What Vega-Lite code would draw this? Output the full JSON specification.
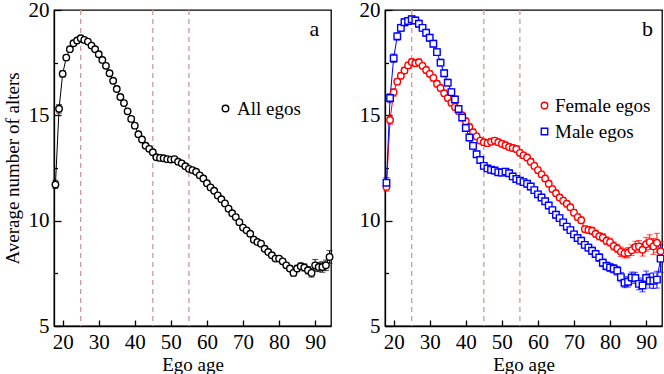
{
"$schema":"https://vega.github.io/schema/vega-lite/v6.json",
"background":"white",
"padding":{"left":2,"top":-2,"right":3,"bottom":0},
"spacing":21,
"resolve":{"scale":{"color":"independent","shape":"independent","x":"independent","y":"independent"},"legend":{"color":"independent","shape":"independent"},"axis":{"x":"independent","y":"independent"}},
"datasets":{
"vl":[{"age":25},{"age":45},{"age":55}],
"all":[
{"age":18,"v":11.72,"e":0.2},{"age":19,"v":15.31,"e":0.2},{"age":20,"v":16.97,"e":0.15},{"age":21,"v":17.74,"e":0.12},{"age":22,"v":18.14,"e":0.1},{"age":23,"v":18.42,"e":0.1},{"age":24,"v":18.55,"e":0.1},{"age":25,"v":18.66,"e":0.1},{"age":26,"v":18.58,"e":0.1},{"age":27,"v":18.5,"e":0.1},{"age":28,"v":18.31,"e":0.1},{"age":29,"v":18.14,"e":0.1},{"age":30,"v":17.9,"e":0.1},{"age":31,"v":17.63,"e":0.1},{"age":32,"v":17.35,"e":0.1},{"age":33,"v":17.0,"e":0.1},{"age":34,"v":16.64,"e":0.1},{"age":35,"v":16.25,"e":0.1},{"age":36,"v":15.87,"e":0.1},{"age":37,"v":15.58,"e":0.1},{"age":38,"v":15.19,"e":0.1},{"age":39,"v":14.83,"e":0.1},{"age":40,"v":14.51,"e":0.1},{"age":41,"v":14.1,"e":0.1},{"age":42,"v":13.85,"e":0.1},{"age":43,"v":13.56,"e":0.1},{"age":44,"v":13.41,"e":0.1},{"age":45,"v":13.25,"e":0.1},{"age":46,"v":13.01,"e":0.1},{"age":47,"v":12.98,"e":0.1},{"age":48,"v":12.96,"e":0.1},{"age":49,"v":12.92,"e":0.1},{"age":50,"v":12.9,"e":0.1},{"age":51,"v":12.92,"e":0.1},{"age":52,"v":12.8,"e":0.1},{"age":53,"v":12.72,"e":0.1},{"age":54,"v":12.58,"e":0.1},{"age":55,"v":12.46,"e":0.1},{"age":56,"v":12.4,"e":0.1},{"age":57,"v":12.32,"e":0.1},{"age":58,"v":12.15,"e":0.1},{"age":59,"v":12.0,"e":0.1},{"age":60,"v":11.78,"e":0.1},{"age":61,"v":11.58,"e":0.1},{"age":62,"v":11.42,"e":0.1},{"age":63,"v":11.2,"e":0.1},{"age":64,"v":11.02,"e":0.1},{"age":65,"v":10.82,"e":0.1},{"age":66,"v":10.57,"e":0.1},{"age":67,"v":10.35,"e":0.1},{"age":68,"v":10.17,"e":0.1},{"age":69,"v":9.93,"e":0.1},{"age":70,"v":9.67,"e":0.1},{"age":71,"v":9.54,"e":0.1},{"age":72,"v":9.38,"e":0.1},{"age":73,"v":9.1,"e":0.1},{"age":74,"v":8.99,"e":0.1},{"age":75,"v":8.91,"e":0.1},{"age":76,"v":8.67,"e":0.1},{"age":77,"v":8.51,"e":0.1},{"age":78,"v":8.36,"e":0.1},{"age":79,"v":8.2,"e":0.1},{"age":80,"v":8.2,"e":0.1},{"age":81,"v":8.07,"e":0.12},{"age":82,"v":7.88,"e":0.12},{"age":83,"v":7.73,"e":0.12},{"age":84,"v":7.52,"e":0.14},{"age":85,"v":7.73,"e":0.15},{"age":86,"v":7.84,"e":0.15},{"age":87,"v":7.78,"e":0.17},{"age":88,"v":7.65,"e":0.18},{"age":89,"v":7.52,"e":0.2},{"age":90,"v":7.88,"e":0.28},{"age":91,"v":7.8,"e":0.22},{"age":92,"v":7.8,"e":0.25},{"age":93,"v":7.88,"e":0.25},{"age":94,"v":8.28,"e":0.3}
],
"fm":[
{"g":"Female egos","age":18,"v":11.6,"e":0.2},{"g":"Female egos","age":19,"v":14.78,"e":0.2},{"g":"Female egos","age":20,"v":16.09,"e":0.18},{"g":"Female egos","age":21,"v":16.6,"e":0.15},{"g":"Female egos","age":22,"v":16.88,"e":0.15},{"g":"Female egos","age":23,"v":17.13,"e":0.15},{"g":"Female egos","age":24,"v":17.37,"e":0.15},{"g":"Female egos","age":25,"v":17.53,"e":0.15},{"g":"Female egos","age":26,"v":17.47,"e":0.15},{"g":"Female egos","age":27,"v":17.52,"e":0.15},{"g":"Female egos","age":28,"v":17.35,"e":0.15},{"g":"Female egos","age":29,"v":17.15,"e":0.15},{"g":"Female egos","age":30,"v":16.97,"e":0.15},{"g":"Female egos","age":31,"v":16.78,"e":0.15},{"g":"Female egos","age":32,"v":16.5,"e":0.15},{"g":"Female egos","age":33,"v":16.3,"e":0.15},{"g":"Female egos","age":34,"v":16.05,"e":0.15},{"g":"Female egos","age":35,"v":15.82,"e":0.15},{"g":"Female egos","age":36,"v":15.6,"e":0.15},{"g":"Female egos","age":37,"v":15.4,"e":0.15},{"g":"Female egos","age":38,"v":15.2,"e":0.15},{"g":"Female egos","age":39,"v":15.0,"e":0.15},{"g":"Female egos","age":40,"v":14.72,"e":0.15},{"g":"Female egos","age":41,"v":14.45,"e":0.15},{"g":"Female egos","age":42,"v":14.2,"e":0.15},{"g":"Female egos","age":43,"v":14.0,"e":0.15},{"g":"Female egos","age":44,"v":13.8,"e":0.15},{"g":"Female egos","age":45,"v":13.72,"e":0.15},{"g":"Female egos","age":46,"v":13.68,"e":0.15},{"g":"Female egos","age":47,"v":13.75,"e":0.15},{"g":"Female egos","age":48,"v":13.8,"e":0.15},{"g":"Female egos","age":49,"v":13.72,"e":0.15},{"g":"Female egos","age":50,"v":13.65,"e":0.15},{"g":"Female egos","age":51,"v":13.58,"e":0.15},{"g":"Female egos","age":52,"v":13.5,"e":0.15},{"g":"Female egos","age":53,"v":13.45,"e":0.15},{"g":"Female egos","age":54,"v":13.4,"e":0.15},{"g":"Female egos","age":55,"v":13.22,"e":0.15},{"g":"Female egos","age":56,"v":13.1,"e":0.15},{"g":"Female egos","age":57,"v":13.0,"e":0.15},{"g":"Female egos","age":58,"v":12.8,"e":0.15},{"g":"Female egos","age":59,"v":12.6,"e":0.15},{"g":"Female egos","age":60,"v":12.4,"e":0.15},{"g":"Female egos","age":61,"v":12.2,"e":0.15},{"g":"Female egos","age":62,"v":12.0,"e":0.15},{"g":"Female egos","age":63,"v":11.75,"e":0.15},{"g":"Female egos","age":64,"v":11.5,"e":0.15},{"g":"Female egos","age":65,"v":11.3,"e":0.15},{"g":"Female egos","age":66,"v":11.1,"e":0.15},{"g":"Female egos","age":67,"v":10.95,"e":0.15},{"g":"Female egos","age":68,"v":10.8,"e":0.15},{"g":"Female egos","age":69,"v":10.64,"e":0.15},{"g":"Female egos","age":70,"v":10.38,"e":0.15},{"g":"Female egos","age":71,"v":10.17,"e":0.16},{"g":"Female egos","age":72,"v":10.02,"e":0.16},{"g":"Female egos","age":73,"v":9.6,"e":0.16},{"g":"Female egos","age":74,"v":9.56,"e":0.16},{"g":"Female egos","age":75,"v":9.52,"e":0.17},{"g":"Female egos","age":76,"v":9.38,"e":0.17},{"g":"Female egos","age":77,"v":9.26,"e":0.17},{"g":"Female egos","age":78,"v":9.2,"e":0.18},{"g":"Female egos","age":79,"v":9.05,"e":0.18},{"g":"Female egos","age":80,"v":8.98,"e":0.19},{"g":"Female egos","age":81,"v":8.8,"e":0.2},{"g":"Female egos","age":82,"v":8.68,"e":0.2},{"g":"Female egos","age":83,"v":8.52,"e":0.22},{"g":"Female egos","age":84,"v":8.45,"e":0.22},{"g":"Female egos","age":85,"v":8.48,"e":0.24},{"g":"Female egos","age":86,"v":8.6,"e":0.25},{"g":"Female egos","age":87,"v":8.75,"e":0.27},{"g":"Female egos","age":88,"v":8.78,"e":0.28},{"g":"Female egos","age":89,"v":8.62,"e":0.3},{"g":"Female egos","age":90,"v":8.88,"e":0.33},{"g":"Female egos","age":91,"v":8.98,"e":0.35},{"g":"Female egos","age":92,"v":8.78,"e":0.38},{"g":"Female egos","age":93,"v":8.95,"e":0.45},{"g":"Female egos","age":94,"v":8.55,"e":0.45},
{"g":"Male egos","age":18,"v":11.8,"e":0.25},{"g":"Male egos","age":19,"v":15.82,"e":0.22},{"g":"Male egos","age":20,"v":17.71,"e":0.2},{"g":"Male egos","age":21,"v":18.75,"e":0.18},{"g":"Male egos","age":22,"v":19.15,"e":0.17},{"g":"Male egos","age":23,"v":19.42,"e":0.17},{"g":"Male egos","age":24,"v":19.48,"e":0.16},{"g":"Male egos","age":25,"v":19.56,"e":0.16},{"g":"Male egos","age":26,"v":19.5,"e":0.16},{"g":"Male egos","age":27,"v":19.35,"e":0.16},{"g":"Male egos","age":28,"v":19.15,"e":0.16},{"g":"Male egos","age":29,"v":18.92,"e":0.16},{"g":"Male egos","age":30,"v":18.68,"e":0.16},{"g":"Male egos","age":31,"v":18.4,"e":0.16},{"g":"Male egos","age":32,"v":18.0,"e":0.16},{"g":"Male egos","age":33,"v":17.5,"e":0.16},{"g":"Male egos","age":34,"v":17.0,"e":0.16},{"g":"Male egos","age":35,"v":16.55,"e":0.16},{"g":"Male egos","age":36,"v":16.1,"e":0.16},{"g":"Male egos","age":37,"v":15.75,"e":0.16},{"g":"Male egos","age":38,"v":15.3,"e":0.16},{"g":"Male egos","age":39,"v":14.9,"e":0.16},{"g":"Male egos","age":40,"v":14.4,"e":0.16},{"g":"Male egos","age":41,"v":13.95,"e":0.16},{"g":"Male egos","age":42,"v":13.55,"e":0.16},{"g":"Male egos","age":43,"v":13.15,"e":0.15},{"g":"Male egos","age":44,"v":12.88,"e":0.15},{"g":"Male egos","age":45,"v":12.6,"e":0.15},{"g":"Male egos","age":46,"v":12.48,"e":0.15},{"g":"Male egos","age":47,"v":12.42,"e":0.15},{"g":"Male egos","age":48,"v":12.38,"e":0.15},{"g":"Male egos","age":49,"v":12.3,"e":0.15},{"g":"Male egos","age":50,"v":12.28,"e":0.15},{"g":"Male egos","age":51,"v":12.33,"e":0.15},{"g":"Male egos","age":52,"v":12.25,"e":0.15},{"g":"Male egos","age":53,"v":12.1,"e":0.15},{"g":"Male egos","age":54,"v":11.98,"e":0.15},{"g":"Male egos","age":55,"v":11.9,"e":0.15},{"g":"Male egos","age":56,"v":11.83,"e":0.15},{"g":"Male egos","age":57,"v":11.75,"e":0.15},{"g":"Male egos","age":58,"v":11.62,"e":0.15},{"g":"Male egos","age":59,"v":11.45,"e":0.15},{"g":"Male egos","age":60,"v":11.25,"e":0.15},{"g":"Male egos","age":61,"v":11.1,"e":0.15},{"g":"Male egos","age":62,"v":10.92,"e":0.15},{"g":"Male egos","age":63,"v":10.72,"e":0.15},{"g":"Male egos","age":64,"v":10.5,"e":0.15},{"g":"Male egos","age":65,"v":10.28,"e":0.15},{"g":"Male egos","age":66,"v":10.12,"e":0.15},{"g":"Male egos","age":67,"v":9.92,"e":0.15},{"g":"Male egos","age":68,"v":9.72,"e":0.15},{"g":"Male egos","age":69,"v":9.55,"e":0.15},{"g":"Male egos","age":70,"v":9.35,"e":0.15},{"g":"Male egos","age":71,"v":9.18,"e":0.16},{"g":"Male egos","age":72,"v":9.05,"e":0.16},{"g":"Male egos","age":73,"v":8.85,"e":0.16},{"g":"Male egos","age":74,"v":8.72,"e":0.17},{"g":"Male egos","age":75,"v":8.57,"e":0.17},{"g":"Male egos","age":76,"v":8.42,"e":0.17},{"g":"Male egos","age":77,"v":8.25,"e":0.18},{"g":"Male egos","age":78,"v":8.0,"e":0.18},{"g":"Male egos","age":79,"v":7.85,"e":0.19},{"g":"Male egos","age":80,"v":7.78,"e":0.2},{"g":"Male egos","age":81,"v":7.72,"e":0.2},{"g":"Male egos","age":82,"v":7.62,"e":0.21},{"g":"Male egos","age":83,"v":7.32,"e":0.22},{"g":"Male egos","age":84,"v":7.05,"e":0.23},{"g":"Male egos","age":85,"v":7.1,"e":0.25},{"g":"Male egos","age":86,"v":7.3,"e":0.26},{"g":"Male egos","age":87,"v":7.28,"e":0.27},{"g":"Male egos","age":88,"v":7.0,"e":0.28},{"g":"Male egos","age":89,"v":6.92,"e":0.3},{"g":"Male egos","age":90,"v":7.28,"e":0.33},{"g":"Male egos","age":91,"v":7.15,"e":0.35},{"g":"Male egos","age":92,"v":7.15,"e":0.37},{"g":"Male egos","age":93,"v":7.2,"e":0.4},{"g":"Male egos","age":94,"v":8.2,"e":0.65}
]
},
"hconcat":[
{
"width":277,"height":316,
"resolve":{"axis":{"y":"independent"}},
"layer":[
{"data":{"name":"vl"},"mark":{"type":"rule","color":"#c99a9a","strokeDash":[5,4],"strokeWidth":1.3},"encoding":{"x":{"field":"age","type":"quantitative","scale":{"domain":[17.6,94.4],"nice":false,"zero":false},"axis":{"values":[20,30,40,50,60,70,80,90],"title":"Ego age"}}}},
{"data":{"name":"all"},"mark":{"type":"errorbar","ticks":{"size":6},"thickness":1,"color":"black"},"encoding":{"x":{"field":"age","type":"quantitative","axis":{"values":[20,30,40,50,60,70,80,90],"title":"Ego age"}},"y":{"field":"v","type":"quantitative","scale":{"domain":[5,20],"nice":false,"zero":false},"axis":null},"yError":{"field":"e"}}},
{"data":{"name":"all"},"mark":{"type":"line","strokeWidth":1,"color":"black"},"encoding":{"x":{"field":"age","type":"quantitative","axis":{"values":[20,30,40,50,60,70,80,90],"title":"Ego age"}},"y":{"field":"v","type":"quantitative","axis":{"values":[7.5,12.5,17.5],"labels":false,"domain":false,"tickSize":-3.5,"title":null,"orient":"left"}}}},
{"data":{"name":"all"},"mark":{"type":"point","filled":false,"fill":"white","strokeWidth":1.4,"size":42,"opacity":1},"encoding":{"x":{"field":"age","type":"quantitative","axis":{"values":[20,30,40,50,60,70,80,90],"title":"Ego age"}},"y":{"field":"v","type":"quantitative","axis":{"values":[5,10,15,20],"title":"Average number of alters","orient":"left"}},"color":{"datum":"All egos","scale":{"range":["black"]},"legend":{"orient":"none","legendX":162,"legendY":89,"title":null,"symbolType":"circle","symbolSize":42,"labelOffset":2}}}},
{"data":{"values":[{"lab":"a"}]},"mark":{"type":"text","fontSize":22,"align":"center","baseline":"alphabetic","color":"black"},"encoding":{"text":{"field":"lab"},"x":{"datum":89.8,"axis":{"values":[20,30,40,50,60,70,80,90],"title":"Ego age"}},"y":{"datum":18.77,"axis":null}}}
]
},
{
"width":277,"height":316,
"resolve":{"axis":{"y":"independent"}},
"layer":[
{"data":{"name":"vl"},"mark":{"type":"rule","color":"#c99a9a","strokeDash":[5,4],"strokeWidth":1.3},"encoding":{"x":{"field":"age","type":"quantitative","scale":{"domain":[17.6,94.4],"nice":false,"zero":false},"axis":{"values":[20,30,40,50,60,70,80,90],"title":"Ego age"}}}},
{"data":{"name":"fm"},"transform":[{"filter":{"field":"g","equal":"Female egos"}}],"mark":{"type":"errorbar","ticks":{"size":6},"thickness":1,"color":"#ff0000"},"encoding":{"x":{"field":"age","type":"quantitative","axis":{"values":[20,30,40,50,60,70,80,90],"title":"Ego age"}},"y":{"field":"v","type":"quantitative","scale":{"domain":[5,20],"nice":false,"zero":false},"axis":null},"yError":{"field":"e"}}},
{"data":{"name":"fm"},"transform":[{"filter":{"field":"g","equal":"Male egos"}}],"mark":{"type":"errorbar","ticks":{"size":6},"thickness":1,"color":"#0000ff"},"encoding":{"x":{"field":"age","type":"quantitative","axis":{"values":[20,30,40,50,60,70,80,90],"title":"Ego age"}},"y":{"field":"v","type":"quantitative","axis":null},"yError":{"field":"e"}}},
{"data":{"name":"fm"},"transform":[{"filter":{"field":"g","equal":"Female egos"}}],"mark":{"type":"line","strokeWidth":1,"color":"#ff0000"},"encoding":{"x":{"field":"age","type":"quantitative","axis":{"values":[20,30,40,50,60,70,80,90],"title":"Ego age"}},"y":{"field":"v","type":"quantitative","axis":{"values":[7.5,12.5,17.5],"labels":false,"domain":false,"tickSize":-3.5,"title":null,"orient":"left"}}}},
{"data":{"name":"fm"},"transform":[{"filter":{"field":"g","equal":"Male egos"}}],"mark":{"type":"line","strokeWidth":1,"color":"#0000ff"},"encoding":{"x":{"field":"age","type":"quantitative","axis":{"values":[20,30,40,50,60,70,80,90],"title":"Ego age"}},"y":{"field":"v","type":"quantitative","axis":null}}},
{"data":{"name":"fm"},"mark":{"type":"point","filled":false,"fill":"white","strokeWidth":1.4,"size":42,"opacity":1},"encoding":{"x":{"field":"age","type":"quantitative","axis":{"values":[20,30,40,50,60,70,80,90],"title":"Ego age"}},"y":{"field":"v","type":"quantitative","axis":{"values":[5,10,15,20],"title":null,"orient":"left"}},"color":{"field":"g","type":"nominal","scale":{"domain":["Female egos","Male egos"],"range":["#ff0000","#0000ff"]},"legend":{"orient":"none","legendX":150,"legendY":86,"title":null,"symbolSize":42,"labelOffset":1}},"shape":{"field":"g","type":"nominal","scale":{"domain":["Female egos","Male egos"],"range":["circle","square"]},"legend":{"orient":"none","legendX":150,"legendY":86,"title":null,"symbolSize":42,"labelOffset":1}}}},
{"data":{"values":[{"lab":"b"}]},"mark":{"type":"text","fontSize":22,"align":"center","baseline":"alphabetic","color":"black"},"encoding":{"text":{"field":"lab"},"x":{"datum":90.4,"axis":{"values":[20,30,40,50,60,70,80,90],"title":"Ego age"}},"y":{"datum":18.77,"axis":null}}}
]
}
],
"config":{
"font":"Liberation Serif, Times New Roman, serif",
"text":{"font":"Liberation Serif, Times New Roman, serif"},
"view":{"stroke":"black","strokeWidth":1.3},
"axis":{"grid":false,"domainColor":"black","domainWidth":1.3,"tickColor":"black","tickWidth":1.3,"tickSize":-7,"labelColor":"black","labelFont":"Liberation Serif, Times New Roman, serif","labelFontSize":21,"titleFont":"Liberation Serif, Times New Roman, serif","titleFontSize":19,"titleFontWeight":"normal","titleColor":"black","labelPadding":12,"titlePadding":6,"labelFlush":false,"labelOverlap":false},
"axisX":{"tickSize":-6,"labelPadding":11,"titlePadding":3},
"legend":{"labelFont":"Liberation Serif, Times New Roman, serif","labelFontSize":19,"labelColor":"black","symbolStrokeWidth":1.4,"symbolSize":42,"rowPadding":6,"labelOffset":2,"padding":0}
}
}
